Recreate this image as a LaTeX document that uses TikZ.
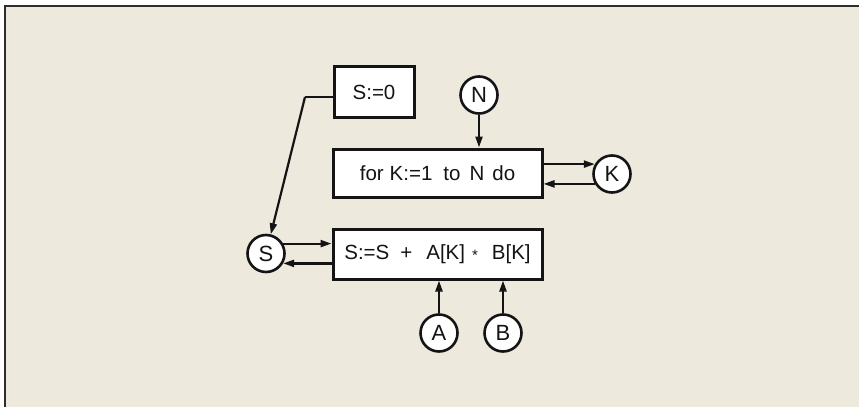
\documentclass[tikz,border=0pt]{standalone}
\usepackage{fontspec}
\setmainfont{Liberation Sans}
\usetikzlibrary{arrows.meta}
\definecolor{paper}{RGB}{237,233,221}
\definecolor{ink}{RGB}{20,20,20}
\definecolor{frame}{RGB}{45,45,45}
\begin{document}
\begin{tikzpicture}[x=1pt,y=-1pt,
  every node/.style={font=\fontsize{20.5}{22}\selectfont, text=ink},
  stmt/.style={draw=ink, line width=3pt, fill=white, rectangle, inner sep=0pt},
  var/.style={draw=ink, line width=2.6pt, fill=white, circle, inner sep=0pt, minimum size=37pt,
    font=\fontsize{22}{24}\selectfont},
  arr/.style={draw=ink, line width=2.2pt, -{Triangle[length=11pt,width=7pt]}},
  plain/.style={draw=ink, line width=2.2pt}
]
\useasboundingbox (0,0) rectangle (859,407);
\fill[white] (0,0) rectangle (859,407);
\fill[paper] (5,6) rectangle (859,407);
\draw[frame, line width=1.6pt] (5,407) -- (5,6) -- (859,6);

% statement boxes
\node[stmt, minimum width=80pt, minimum height=51pt] (init) at (374,92) {S:=0};
\node[stmt, minimum width=209pt, minimum height=48pt] (for) at (437.5,173)
  {for\hspace{6pt}K:=1\hspace{11pt}to\hspace{9pt}N\hspace{8pt}do};
\node[stmt, minimum width=209pt, minimum height=50pt] (sum) at (437.5,254)
  {S:=S\hspace{11pt}+\hspace{14pt}A[K]\hspace{7pt}\raisebox{-1pt}{\fontsize{15}{15}\selectfont *}\hspace{14pt}B[K]};

% variables
\node[var] (N) at (479,95) {N};
\node[var] (K) at (612,174) {K};
\node[var] (S) at (266,253.5) {S};
\node[var] (A) at (439,333) {A};
\node[var] (B) at (503,333) {B};

% connectors
\coordinate (bend) at (305,97);
\draw[plain] (init.west |- bend) -- (bend);
\draw[arr] (bend) -- (S);
\draw[arr] (N) -- (N |- for.north);
\draw[arr] (for.east |- K.150) -- (K.150);
\draw[arr] (K.210) -- (for.east |- K.210);
\draw[arr] (S.30) -- (S.30 -| sum.west);
\draw[arr] (sum.west |- S.330) -- (S.330);
\draw[arr] (A) -- (A |- sum.south);
\draw[arr] (B) -- (B |- sum.south);
\end{tikzpicture}
\end{document}
